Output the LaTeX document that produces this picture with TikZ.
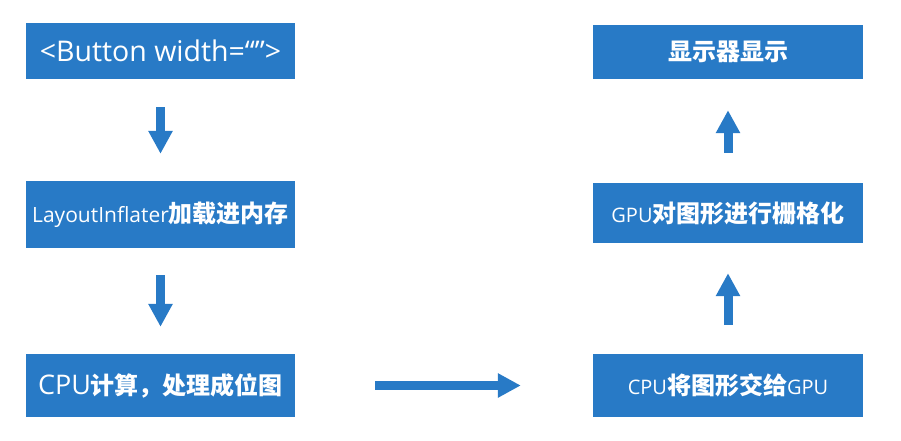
\documentclass[tikz,border=0pt]{standalone}
\usepackage{fontspec}
\setmainfont{Open Sans}
\newfontfamily\cjk{Noto Sans CJK SC}
\usetikzlibrary{arrows.meta}
\definecolor{boxblue}{RGB}{40,122,198}
\tikzset{
  box/.style={fill=boxblue, draw=none, text=white, inner sep=0pt, anchor=center},
  blockarrow/.style={draw=boxblue, line width=9pt, -{Triangle[length=23pt,width=23pt]}},
}
\newcommand{\ch}[1]{{\cjk\bfseries\fontsize{24}{28}\selectfont #1}}
\newcommand{\lt}[2]{{\fontsize{#1}{#1}\selectfont #2}}
\begin{document}
\begin{tikzpicture}[x=1pt,y=-1pt]
\useasboundingbox (0,0) rectangle (901,441);
\node[box, minimum width=269pt, minimum height=56pt] (b1) at (160.5,51) {\lt{28.5}{<Button width=“”>}};
\node[box, minimum width=269pt, minimum height=67pt] (b2) at (160.5,214.5) {\lt{21}{LayoutInflater}\ch{加载进内存}};
\node[box, minimum width=269pt, minimum height=63pt] (b3) at (160.5,385.5) {\lt{27}{CPU}\ch{计算，处理成位图}};
\node[box, minimum width=270pt, minimum height=54pt] (r1) at (728,52) {\ch{显示器显示}};
\node[box, minimum width=270pt, minimum height=60pt] (r2) at (728,213) {\lt{20}{GPU}\ch{对图形进行栅格化}};
\node[box, minimum width=270pt, minimum height=63pt] (r3) at (728,385.5) {\lt{20}{CPU}\ch{将图形交给}\lt{20}{GPU}};
\draw[blockarrow, shorten <=28pt, shorten >=27pt] (b1) -- (b2);
\draw[blockarrow, shorten <=27pt, shorten >=27pt] (b2) -- (b3);
\draw[blockarrow, shorten <=80pt, shorten >=72pt] (b3) -- (r3);
\draw[blockarrow, shorten <=29pt, shorten >=30pt] (r3) -- (r2);
\draw[blockarrow, shorten <=30pt, shorten >=31pt] (r2) -- (r1);
\end{tikzpicture}
\end{document}
